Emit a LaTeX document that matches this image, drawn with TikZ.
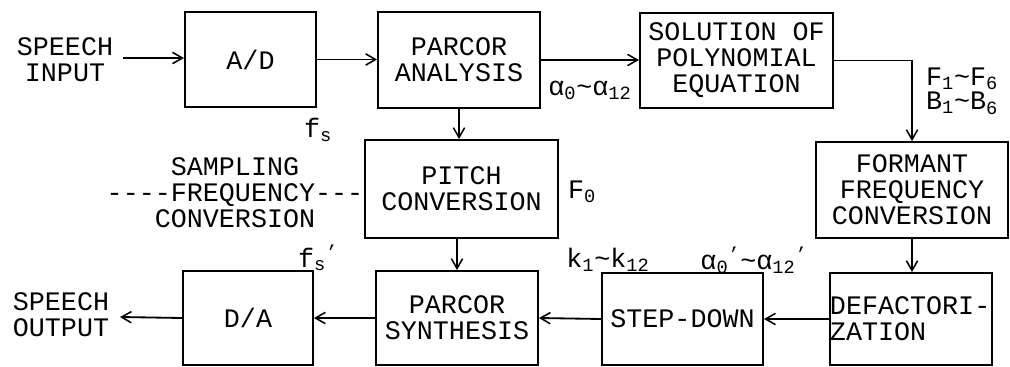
\documentclass[tikz,border=0pt]{standalone}
\usepackage{fontspec}
\setmainfont{Liberation Mono}
\usetikzlibrary{arrows.meta}

\tikzset{
  blk/.style={draw,line width=1.3pt,inner sep=0pt,align=center},
  lbl/.style={inner sep=0pt,align=center},
  flow/.style={line width=1.3pt,-{Straight Barb[length=7pt,width=8pt,line width=1.1pt]}}
}

\begin{document}
\begin{tikzpicture}[x=0.025cm,y=-0.025cm,
    font=\fontsize{19}{18.5}\selectfont]
  \useasboundingbox (0,0) rectangle (1010,367);
  % boxes
  \node[blk,minimum width=3.28cm,minimum height=2.38cm] (ad) at (250.5,59.5) {A/D};
  \node[blk,minimum width=4.05cm,minimum height=2.4cm] (pa) at (459,60) {PARCOR\\ANALYSIS};
  \node[blk,minimum width=4.83cm,minimum height=2.38cm] (sol) at (736.5,60.5) {SOLUTION OF\\POLYNOMIAL\\EQUATION};
  \node[blk,minimum width=4.83cm,minimum height=2.45cm] (pit) at (461.5,189) {PITCH\\CONVERSION};
  \node[blk,minimum width=4.8cm,minimum height=2.4cm] (fmt) at (912,190) {FORMANT\\FREQUENCY\\CONVERSION};
  \node[blk,minimum width=3.25cm,minimum height=2.35cm] (da) at (248,318) {D/A};
  \node[blk,minimum width=4.05cm,minimum height=2.35cm] (syn) at (457,318) {PARCOR\\SYNTHESIS};
  \node[blk,minimum width=4.03cm,minimum height=2.3cm] (sd) at (682.5,319) {STEP-DOWN};
  \node[blk,minimum width=4.05cm,minimum height=2.3cm,align=left,text width=4.05cm] (dfz) at (911,319) {DEFACTORI-\\ZATION};
  % labels
  \node[lbl] (sin) at (65,60) {SPEECH\\INPUT};
  \node[lbl] (sout) at (61,315) {SPEECH\\OUTPUT};
  \node[lbl] (fs) at (318,130) {f\textsubscript{s}};
  \node[lbl] (sfc) at (235,193) {SAMPLING\\-{}-{}-{}-FREQUENCY-{}-{}-\\CONVERSION};
  \node[lbl] (fsp) at (318,258) {f\textsubscript{s}\textsuperscript{'}};
  \node[lbl] (f0) at (582,192) {F\textsubscript{0}};
  \node[lbl] (alf) at (590,90) {α\textsubscript{0}\textasciitilde α\textsubscript{12}};
  \node[lbl,align=left] (fb) at (962,91) {F\textsubscript{1}\textasciitilde F\textsubscript{6}\\[-1pt]B\textsubscript{1}\textasciitilde B\textsubscript{6}};
  \node[lbl] (kk) at (608,260) {k\textsubscript{1}\textasciitilde k\textsubscript{12}};
  \node[lbl] (alp) at (754,260) {α\textsubscript{0}\textsuperscript{'}\textasciitilde α\textsubscript{12}\textsuperscript{'}};
  % connectors
  \coordinate (in) at (123,58);
  \coordinate (out) at (120,317);
  \draw[flow] (in) -- (in -| ad.west);
  \draw[flow] (ad.east) -- (ad.east -| pa.west);
  \draw[flow] (pa.east) -- (pa.east -| sol.west);
  \draw[flow] (sol.east) -| (fmt.north);
  \draw[flow] (pa.south) -- (pa.south |- pit.north);
  \draw[flow] (syn.north |- pit.south) -- (syn.north);
  \draw[flow] (fmt.south) -- (fmt.south |- dfz.north);
  \draw[flow] (dfz.west) -- (sd.east);
  \draw[flow] (sd.west) -- (syn.east);
  \draw[flow] (syn.west) -- (da.east);
  \draw[flow] (da.west) -- (out);
\end{tikzpicture}
\end{document}
